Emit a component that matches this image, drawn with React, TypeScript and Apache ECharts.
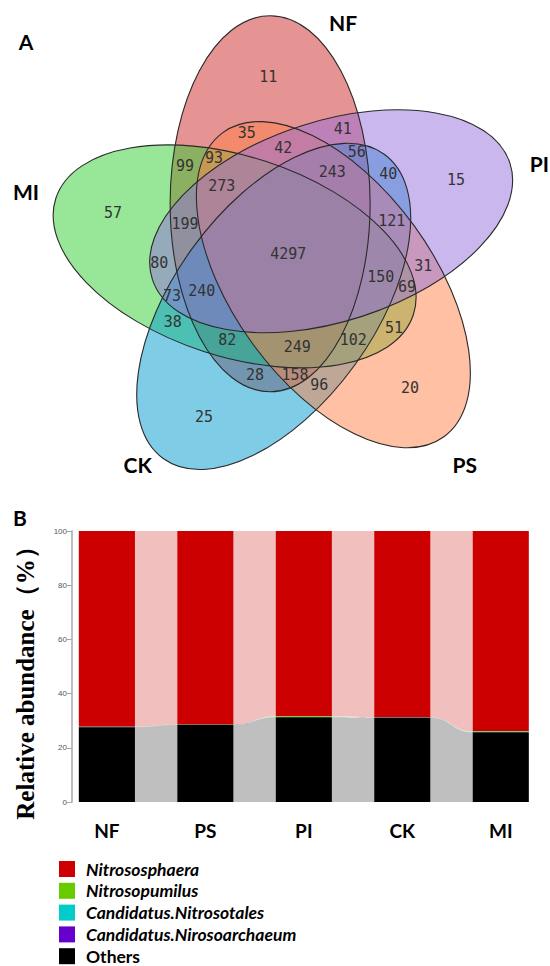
import React, { useEffect, useRef } from 'react';
import * as echarts from 'echarts';

// ---------- Panel A: Venn data ----------
const vennSets = ['NF', 'PI', 'PS', 'CK', 'MI'];
const vennCounts = [11, 15, 20, 25, 57, 35, 41, 42, 56, 99, 93, 243, 40, 273, 199, 121, 4297, 80, 150, 31, 69, 240, 73, 38, 82, 249, 102, 51, 28, 158, 96];

// ---------- Panel B: stacked relative abundance ----------
const categories = ['NF', 'PS', 'PI', 'CK', 'MI'];
const genera = ['Nitrososphaera', 'Nitrosopumilus', 'Candidatus.Nitrosotales', 'Candidatus.Nirosoarchaeum', 'Others'];
const nitrososphaera = [72.2, 71.4, 68.4, 68.8, 73.9];
const nitrosopumilus = [0.05, 0.05, 0.25, 0.05, 0.2];
const nitrosotales = [0.05, 0.02, 0.05, 0.02, 0.15];
const nirosoarchaeum = [0.15, 0.03, 0.05, 0.03, 0.05];
const others = [27.55, 28.5, 31.25, 31.1, 25.7];
const yTicks = [0, 20, 40, 60, 80, 100];

// ---------- layout / styles ----------
const vennLabelPos: [number, number][] = [
  [268.3, 77.3], [456, 180], [410, 388.3], [204, 417.3], [113, 212.7],
  [246.7, 132.7], [342.7, 129.3], [283.3, 147.7], [356.7, 151.7], [185, 165.7],
  [214, 158.3], [332.3, 171.7], [388.3, 174], [221.7, 185.7], [185, 224],
  [391.7, 220.7], [288.3, 254], [159.3, 263], [380.7, 276.7], [423.3, 266],
  [407, 287], [201.7, 291], [172, 296], [172.7, 321.7], [227.3, 340],
  [297.3, 346.7], [353.3, 340], [394, 328.3], [255, 375], [295, 375], [319.3, 385],
];
const setLabelPos: { x: number; y: number; align: string }[] = [
  { x: 343, y: 22.5, align: 'center' },
  { x: 549, y: 163, align: 'right' },
  { x: 464.7, y: 464, align: 'center' },
  { x: 137.7, y: 464, align: 'center' },
  { x: 26, y: 191.7, align: 'center' },
];
const vennFill = ['rgba(205,40,40,0.5)', 'rgba(147,112,219,0.5)', 'rgba(255,130,71,0.5)', 'rgba(0,154,205,0.5)', 'rgba(50,205,50,0.5)'];
const drawOrder = [0, 4, 3, 2, 1];
const VC = [288.6, 254.5];
const VR = 54;
const VA = 100;
const VB = 188;
const generaColors = ['#cc0000', '#66cc00', '#00cccc', '#6600cc', '#000000'];

function ellipseGeom(k: number) {
  const ang = ((-110 + 72 * k) * Math.PI) / 180;
  return {
    x: VC[0] + VR * Math.cos(ang),
    y: VC[1] + VR * Math.sin(ang),
    rotation: (-(-90 + 72 * k) * Math.PI) / 180,
  };
}

function txt(x: number, y: number, text: string, extra: any, align = 'center', rotation = 0) {
  return {
    type: 'text', x, y, rotation,
    style: {
      text, fill: '#000',
      align, verticalAlign: 'middle', textAlign: align, textVerticalAlign: 'middle',
      ...extra,
    },
  };
}

function buildOption(): any {
  const seriesValues = [nitrososphaera, nitrosopumilus, nitrosotales, nirosoarchaeum, others];
  const stackOrder = [4, 3, 2, 1, 0];
  const bottoms = genera.map(() => categories.map(() => 0));
  categories.forEach((_, c) => {
    let acc = 0;
    for (const g of stackOrder) {
      bottoms[g][c] = acc;
      acc += seriesValues[g][c];
    }
  });

  const series = genera.map((name, g) => ({
    type: 'custom',
    name,
    itemStyle: { color: generaColors[g] },
    encode: { x: 0, y: [1, 2] },
    data: categories.map((_, i) => {
      const lo = bottoms[g][i];
      const hi = lo + seriesValues[g][i];
      const j = Math.min(i + 1, categories.length - 1);
      const nlo = bottoms[g][j];
      const nhi = nlo + seriesValues[g][j];
      return [i, lo, hi, nlo, nhi];
    }),
    renderItem: (params: any, api: any) => {
      const i = api.value(0);
      const lo = api.value(1);
      const hi = api.value(2);
      const band = api.size([1, 0])[0];
      const half = band * 0.285;
      const color = api.visual('color');
      const p0 = api.coord([i, lo]);
      const p1 = api.coord([i, hi]);
      const children: any[] = [
        {
          type: 'rect',
          shape: { x: p0[0] - half, y: p1[1], width: half * 2, height: Math.max(p0[1] - p1[1], 0) },
          style: { fill: color },
        },
      ];
      if (i < categories.length - 1) {
        const q0 = api.coord([i + 1, api.value(3)]);
        const q1 = api.coord([i + 1, api.value(4)]);
        const x1 = p0[0] + half;
        const x2 = q0[0] - half;
        const xm = (x1 + x2) / 2;
        const d = `M${x1},${p1[1]} C${xm},${p1[1]} ${xm},${q1[1]} ${x2},${q1[1]} L${x2},${q0[1]} C${xm},${q0[1]} ${xm},${p0[1]} ${x1},${p0[1]} Z`;
        children.push({
          type: 'path',
          shape: { pathData: d },
          style: { fill: color, opacity: 0.25 },
        });
      }
      return { type: 'group', children };
    },
  }));

  const graphic: any[] = [];
  drawOrder.forEach((k) => {
    const e = ellipseGeom(k);
    graphic.push({
      type: 'ellipse', x: e.x, y: e.y, rotation: e.rotation,
      shape: { cx: 0, cy: 0, rx: VB, ry: VA },
      style: { fill: vennFill[k], stroke: 'none' },
    });
  });
  drawOrder.forEach((k) => {
    const e = ellipseGeom(k);
    graphic.push({
      type: 'ellipse', x: e.x, y: e.y, rotation: e.rotation,
      shape: { cx: 0, cy: 0, rx: VB, ry: VA },
      style: { fill: 'none', stroke: '#2a2a2a', lineWidth: 1.1 },
    });
  });
  vennCounts.forEach((v, idx) => {
    const [x, y] = vennLabelPos[idx];
    graphic.push(txt(x, y, String(v), { fill: '#333', fontSize: 15, fontFamily: 'DejaVu Sans Mono' }));
  });
  vennSets.forEach((s, k) => {
    const p = setLabelPos[k];
    graphic.push(txt(p.x, p.y, s, { fontSize: 21, fontWeight: 'bold', fontFamily: 'Lato' }, p.align));
  });
  graphic.push(txt(26, 41, 'A', { fontSize: 21, fontWeight: 'bold', fontFamily: 'Lato' }));
  graphic.push(txt(20, 517.5, 'B', { fontSize: 21, fontWeight: 'bold', fontFamily: 'Lato' }));
  graphic.push(
    txt(25, 677, 'Relative abundance（%）', { fontSize: 25, fontWeight: 'bold', fontFamily: 'Liberation Serif' }, 'center', Math.PI / 2)
  );

  return {
    animation: false,
    backgroundColor: '#ffffff',
    grid: { left: 57.65, top: 531, width: 518.5, height: 271 },
    xAxis: {
      type: 'category',
      data: categories,
      axisLine: { show: false },
      axisTick: { show: false },
      axisLabel: { margin: 19, fontFamily: 'Lato', fontWeight: 'bold', fontSize: 19, color: '#000' },
    },
    yAxis: {
      type: 'value',
      min: yTicks[0],
      max: yTicks[yTicks.length - 1],
      interval: yTicks[1] - yTicks[0],
      offset: -14.35,
      axisLine: { show: true, lineStyle: { color: '#a8a8a8', width: 1.5 } },
      axisTick: { show: true, length: 5, lineStyle: { color: '#a8a8a8' } },
      axisLabel: { fontSize: 8, color: '#555', margin: 5, fontFamily: 'Liberation Sans' },
      splitLine: { show: false },
    },
    legend: {
      orient: 'vertical',
      left: 59,
      top: 860,
      height: 150,
      padding: 0,
      itemWidth: 16,
      itemHeight: 16,
      itemGap: 3.8,
      icon: 'rect',
      data: genera.map((g, i) => (i === genera.length - 1 ? { name: g, textStyle: { fontStyle: 'normal' } } : { name: g })),
      textStyle: { fontFamily: 'Lato', fontSize: 17.5, fontWeight: 'bold', fontStyle: 'italic', color: '#000', padding: [0, 0, 0, 6] },
    },
    graphic,
    series,
  };
}

export default function App() {
  const ref = useRef<HTMLDivElement>(null);
  useEffect(() => {
    if (!ref.current) return;
    const chart = echarts.init(ref.current, undefined, { renderer: 'svg' });
    chart.setOption(buildOption());
    return () => chart.dispose();
  }, []);
  return <div ref={ref} style={{ position: 'absolute', left: 0, top: 0, width: 550, height: 966 }} />;
}
